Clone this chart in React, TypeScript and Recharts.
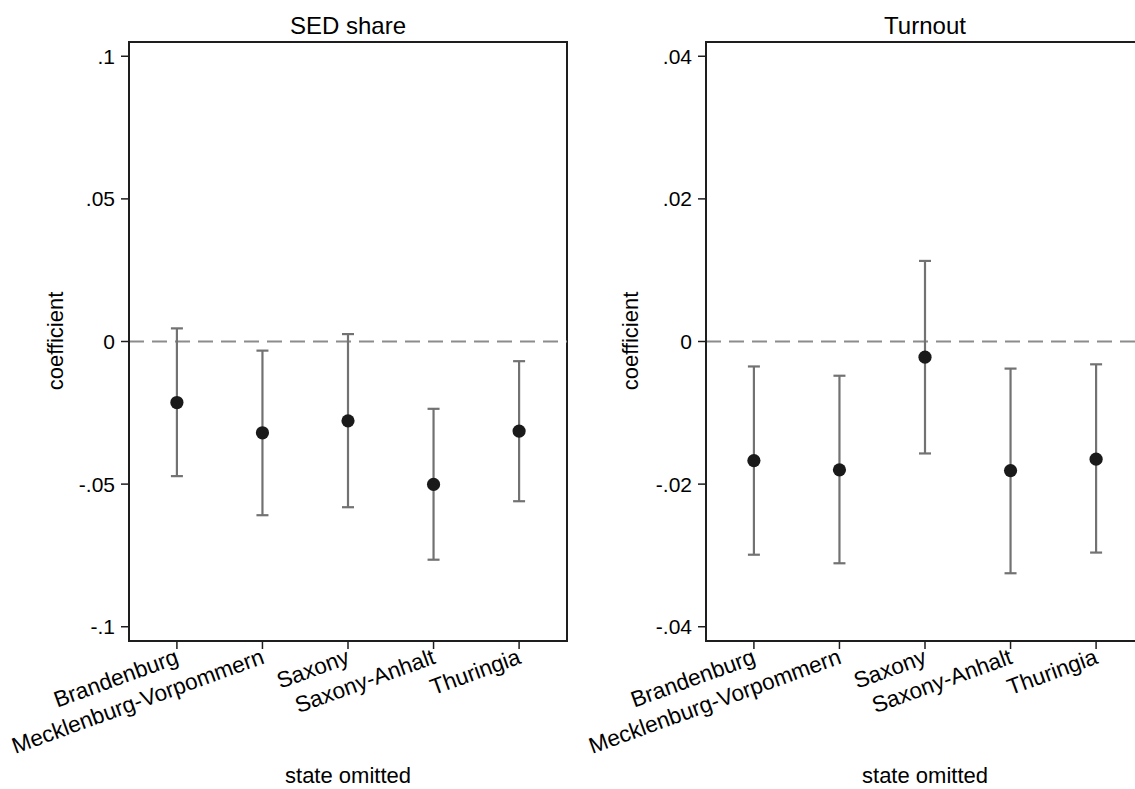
import React from 'react';
import { ScatterChart, Scatter, XAxis, YAxis, ErrorBar, ReferenceLine, ReferenceArea } from 'recharts';

const categories = ['Brandenburg', 'Mecklenburg-Vorpommern', 'Saxony', 'Saxony-Anhalt', 'Thuringia'];

const sedCoef = [-0.0214, -0.0320, -0.0278, -0.0501, -0.0314];
const sedLow = [-0.0472, -0.0609, -0.0581, -0.0765, -0.0560];
const sedHigh = [0.0046, -0.0032, 0.0026, -0.0236, -0.0069];

const turnCoef = [-0.0167, -0.0180, -0.0022, -0.0181, -0.0165];
const turnLow = [-0.0299, -0.0311, -0.0157, -0.0325, -0.0296];
const turnHigh = [-0.0035, -0.0048, 0.0113, -0.0038, -0.0032];

const sedTicks = [-0.1, -0.05, 0, 0.05, 0.1];
const sedTickLabels = ['-.1', '-.05', '0', '.05', '.1'];
const turnTicks = [-0.04, -0.02, 0, 0.02, 0.04];
const turnTickLabels = ['-.04', '-.02', '0', '.02', '.04'];

const FONT = '"Liberation Sans", Arial, Helvetica, sans-serif';
const AXIS = '#1e1e1e';
const ERR = '#727272';
const DOT = '#1a1a1a';

const buildData = (coef: number[], low: number[], high: number[]) =>
  categories.map((c, i) => ({
    x: i + 1,
    y: coef[i],
    err: [coef[i] - low[i], high[i] - coef[i]],
  }));

const CatTick = (props: any) => {
  const { x, y, payload } = props;
  const label = categories[Math.round(payload.value) - 1];
  const ax = x + 3;
  const ay = y + 14;
  return (
    <text
      x={ax}
      y={ay}
      transform={`rotate(-20, ${ax}, ${ay})`}
      textAnchor="end"
      fontSize={22.6}
      fontFamily={FONT}
      fill="#000"
    >
      {label}
    </text>
  );
};

const Dot = (props: any) => {
  const { cx, cy } = props;
  return <circle cx={cx} cy={cy} r={6.6} fill={DOT} />;
};

type PanelProps = {
  left: number;
  coef: number[];
  low: number[];
  high: number[];
  domain: [number, number];
  ticks: number[];
  tickLabels: string[];
};

const Panel = ({ left, coef, low, high, domain, ticks, tickLabels }: PanelProps) => {
  const data = buildData(coef, low, high);
  const fmt = (v: number) => {
    const idx = ticks.findIndex((t) => Math.abs(t - v) < 1e-9);
    return idx >= 0 ? tickLabels[idx] : String(v);
  };
  const xDomain: [number, number] = [0.44, 5.56];
  return (
    <div style={{ position: 'absolute', left, top: 0 }}>
      <ScatterChart width={580} height={789} margin={{ top: 42, right: 13, bottom: 88, left: 69 }}>
        <XAxis
          type="number"
          dataKey="x"
          domain={xDomain}
          ticks={[1, 2, 3, 4, 5]}
          allowDataOverflow
          height={60}
          tickSize={8}
          tickMargin={0}
          tick={<CatTick />}
          axisLine={{ stroke: AXIS, strokeWidth: 2 }}
          tickLine={{ stroke: AXIS, strokeWidth: 1.5 }}
        />
        <YAxis
          type="number"
          dataKey="y"
          domain={domain}
          ticks={ticks}
          allowDataOverflow
          width={60}
          tickSize={8}
          tickMargin={6}
          tickFormatter={fmt}
          tick={{ fontSize: 21, fontFamily: FONT, fill: '#000' }}
          axisLine={{ stroke: AXIS, strokeWidth: 2 }}
          tickLine={{ stroke: AXIS, strokeWidth: 1.5 }}
        />
        <ReferenceArea
          x1={xDomain[0]}
          x2={xDomain[1]}
          y1={domain[0]}
          y2={domain[1]}
          fill="none"
          fillOpacity={0}
          stroke={AXIS}
          strokeWidth={2}
          ifOverflow="extendDomain"
        />
        <ReferenceLine y={0} stroke="#8c8c8c" strokeWidth={2} strokeDasharray="15 8" />
        <Scatter data={data} isAnimationActive={false} shape={<Dot />}>
          <ErrorBar dataKey="err" direction="y" width={6} stroke={ERR} strokeWidth={2.2} isAnimationActive={false} />
        </Scatter>
      </ScatterChart>
    </div>
  );
};

const textBase: React.CSSProperties = {
  position: 'absolute',
  whiteSpace: 'nowrap',
  lineHeight: 1,
  fontFamily: FONT,
  color: '#000',
};

const Centered = ({ x, y, size, text, rotate }: { x: number; y: number; size: number; text: string; rotate?: boolean }) => (
  <div
    style={{
      ...textBase,
      left: x,
      top: y,
      fontSize: size,
      transform: `translate(-50%, -50%)${rotate ? ' rotate(-90deg)' : ''}`,
    }}
  >
    {text}
  </div>
);

export default function App() {
  return (
    <div style={{ position: 'absolute', left: 0, top: 0, width: 1135, height: 789, overflow: 'hidden', background: '#fff' }}>
      <Panel left={0} coef={sedCoef} low={sedLow} high={sedHigh} domain={[-0.105, 0.105]} ticks={sedTicks} tickLabels={sedTickLabels} />
      <Panel left={576.5} coef={turnCoef} low={turnLow} high={turnHigh} domain={[-0.042, 0.042]} ticks={turnTicks} tickLabels={turnTickLabels} />
      <Centered x={348} y={26} size={24} text="SED share" />
      <Centered x={925} y={26} size={24} text="Turnout" />
      <Centered x={348} y={776} size={22} text="state omitted" />
      <Centered x={925} y={776} size={22} text="state omitted" />
      <Centered x={56} y={341} size={22} text="coefficient" rotate />
      <Centered x={631} y={341} size={22} text="coefficient" rotate />
    </div>
  );
}
